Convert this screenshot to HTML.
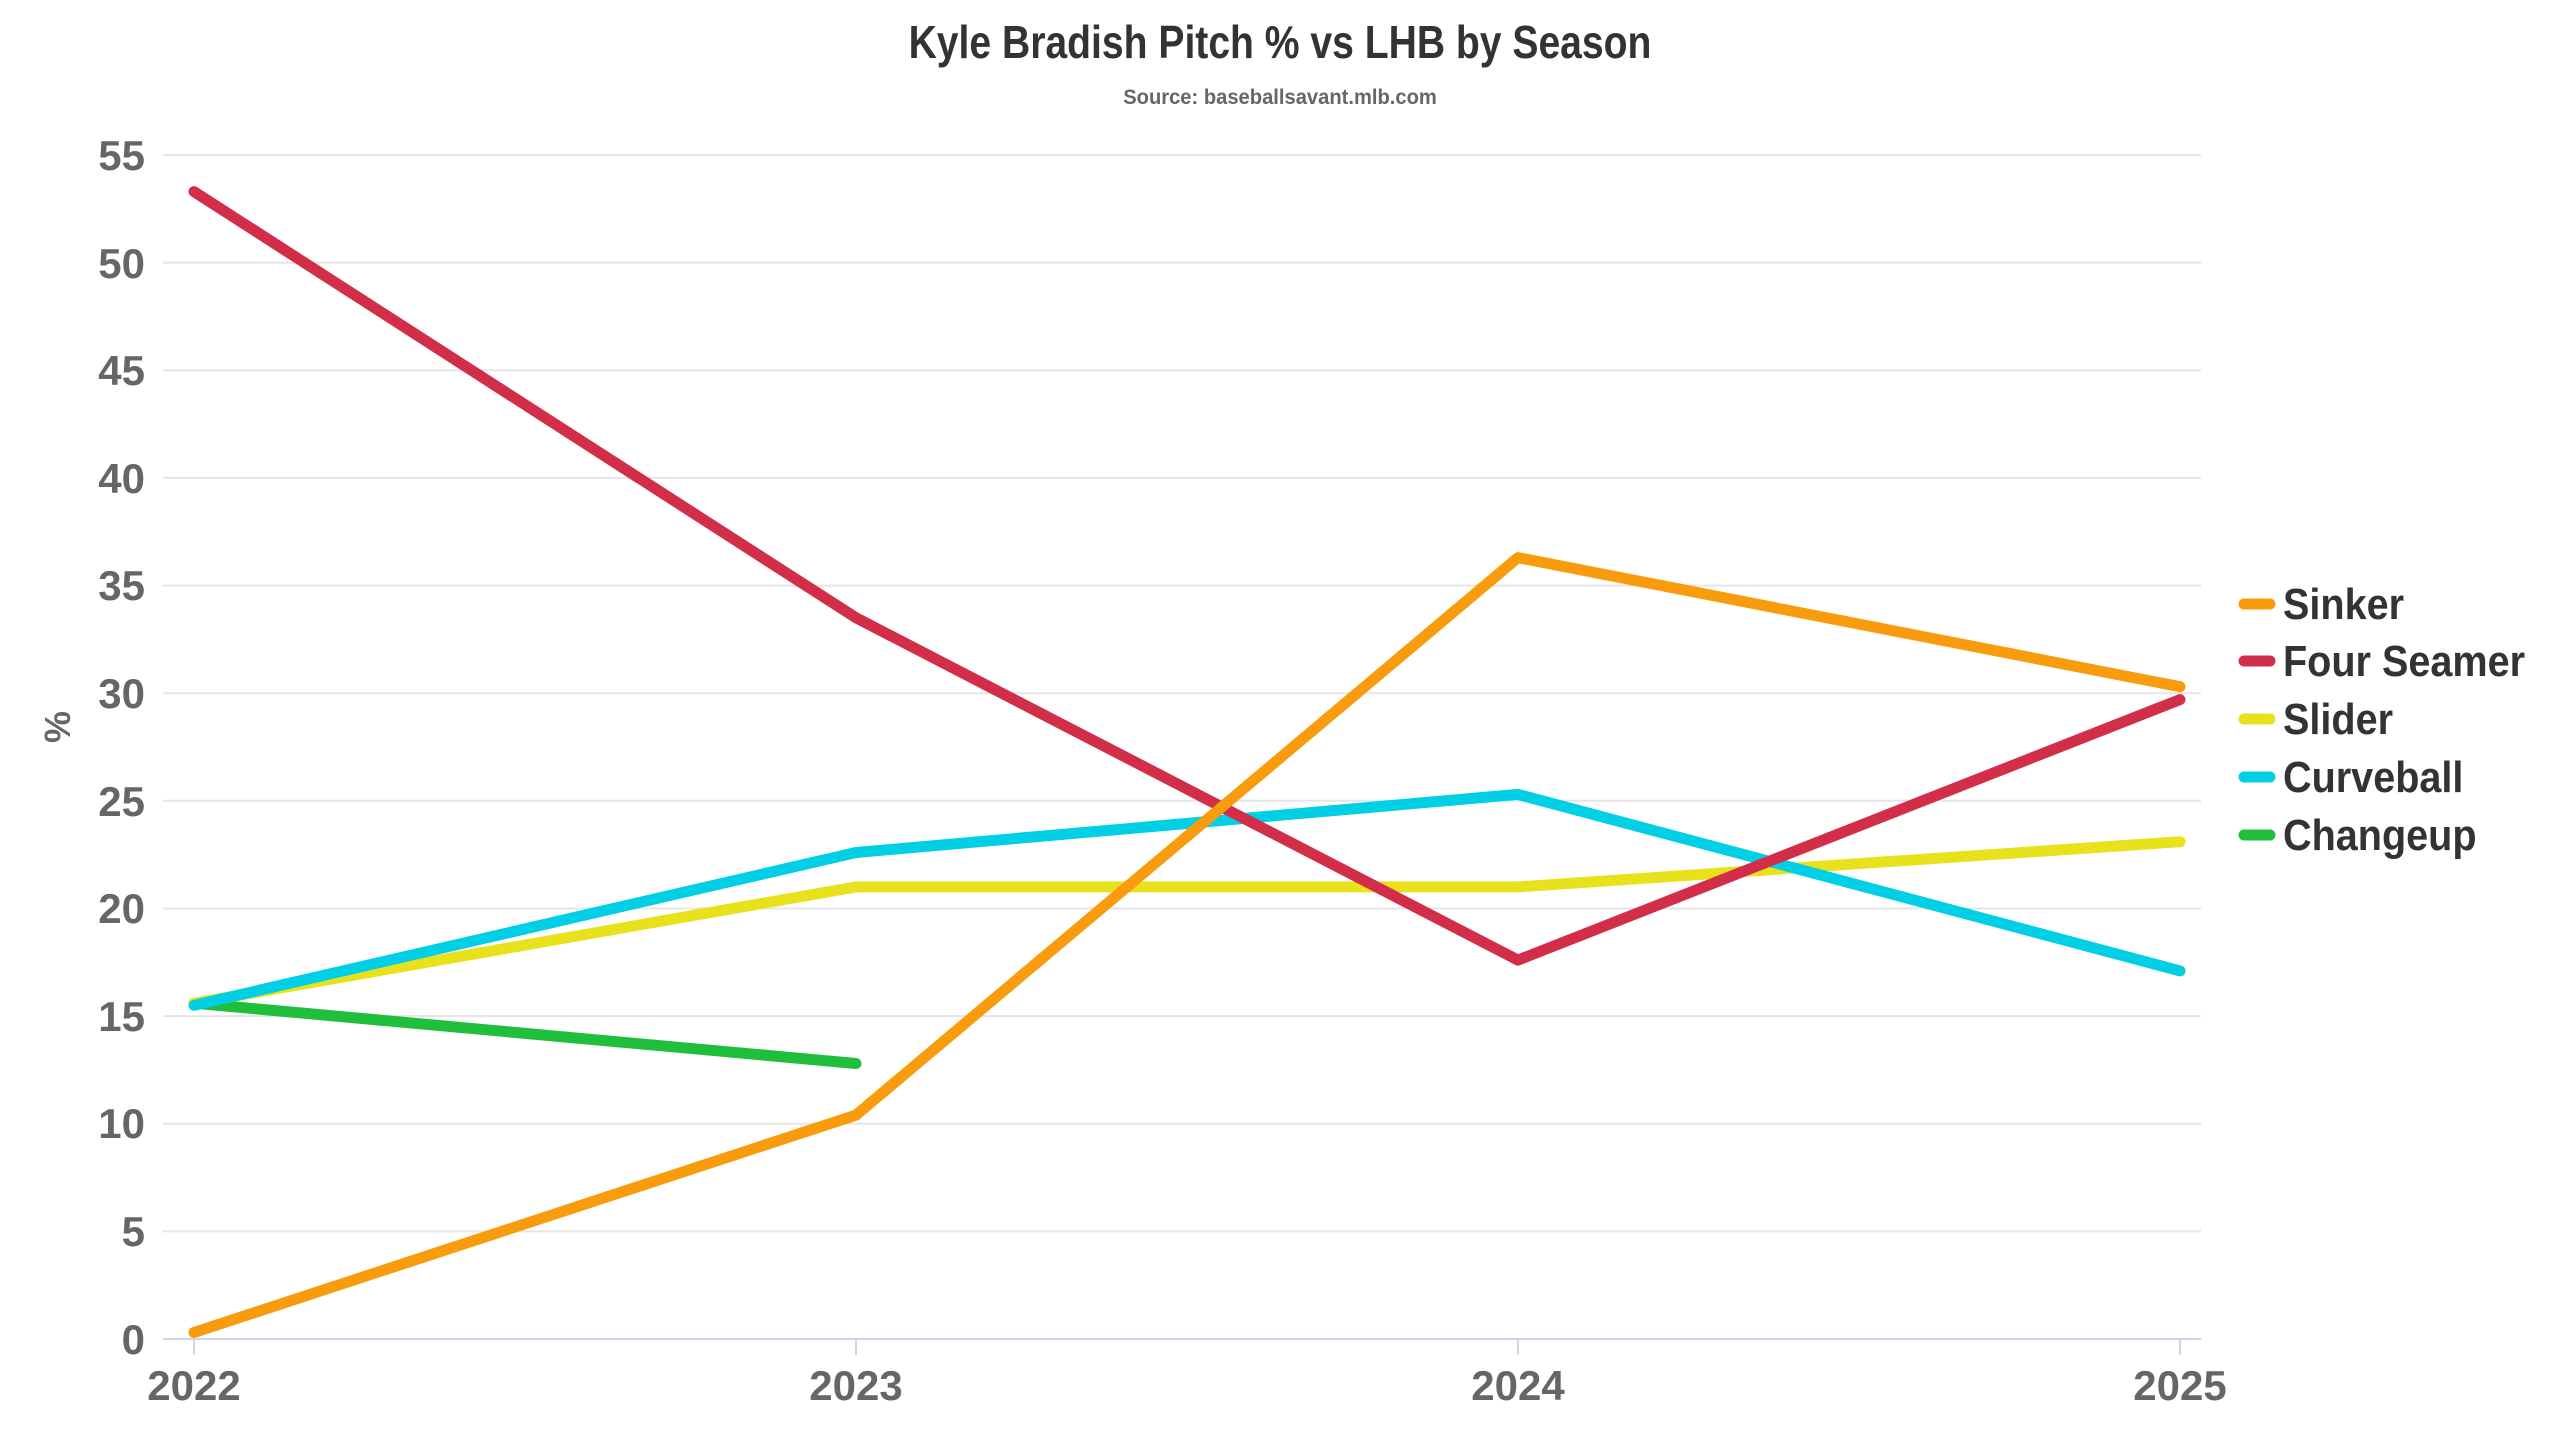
<!DOCTYPE html>
<html><head><meta charset="utf-8"><style>
html,body{margin:0;padding:0;background:#fff;}
svg{display:block;}
text{font-family:"Liberation Sans Narrow","Liberation Sans",sans-serif;font-weight:bold;}
</style></head><body>
<svg width="2560" height="1440" viewBox="0 0 2560 1440" xmlns="http://www.w3.org/2000/svg">
<text transform="translate(1280,58) scale(0.85,1)" x="0" y="0" text-anchor="middle" font-size="46" fill="#333">Kyle Bradish Pitch % vs LHB by Season</text>
<text transform="translate(1280,104) scale(0.96,1)" x="0" y="0" text-anchor="middle" font-size="21" fill="#666">Source: baseballsavant.mlb.com</text>
<g stroke="#e6e6e6" stroke-width="2">
<line x1="163" x2="2201" y1="1231.4" y2="1231.4"/>
<line x1="163" x2="2201" y1="1123.7" y2="1123.7"/>
<line x1="163" x2="2201" y1="1016.1" y2="1016.1"/>
<line x1="163" x2="2201" y1="908.5" y2="908.5"/>
<line x1="163" x2="2201" y1="800.8" y2="800.8"/>
<line x1="163" x2="2201" y1="693.2" y2="693.2"/>
<line x1="163" x2="2201" y1="585.6" y2="585.6"/>
<line x1="163" x2="2201" y1="477.9" y2="477.9"/>
<line x1="163" x2="2201" y1="370.3" y2="370.3"/>
<line x1="163" x2="2201" y1="262.7" y2="262.7"/>
<line x1="163" x2="2201" y1="155" y2="155"/>
</g>
<line x1="163" x2="2201" y1="1339" y2="1339" stroke="#ccd6eb" stroke-width="2"/>
<g stroke="#ccd6eb" stroke-width="2">
<line x1="194" x2="194" y1="1339" y2="1355"/><line x1="856" x2="856" y1="1339" y2="1355"/>
<line x1="1518" x2="1518" y1="1339" y2="1355"/><line x1="2180" x2="2180" y1="1339" y2="1355"/>
</g>
<g font-size="42" fill="#666" text-anchor="end">
<text x="145" y="1354">0</text><text x="145" y="1246">5</text><text x="145" y="1138">10</text>
<text x="145" y="1031">15</text><text x="145" y="923">20</text><text x="145" y="816">25</text>
<text x="145" y="708">30</text><text x="145" y="600">35</text><text x="145" y="493">40</text>
<text x="145" y="385">45</text><text x="145" y="278">50</text><text x="145" y="170">55</text>
</g>
<text transform="translate(70,727) rotate(-90)" text-anchor="middle" font-size="36" fill="#666">%</text>
<g font-size="42" fill="#666" text-anchor="middle">
<text x="194" y="1400">2022</text><text x="856" y="1400">2023</text>
<text x="1518" y="1400">2024</text><text x="2180" y="1400">2025</text>
</g>
<g fill="none" stroke-width="11" stroke-linejoin="round" stroke-linecap="round">
<polyline stroke="#1fbf3c" points="194,1003.2 856,1063.5"/>
<polyline stroke="#e8e21c" points="194,1003.2 856,886.9 1518,886.9 2180,841.7"/>
<polyline stroke="#00cfe6" points="194,1005.3 856,852.5 1518,794.4 2180,970.9"/>
<polyline stroke="#d22e4a" points="194,191.6 856,617.8 1518,960.1 2180,699.6"/>
<polyline stroke="#f89c0e" points="194,1332.5 856,1115.1 1518,557.6 2180,686.7"/>
</g>
<g stroke-width="11" stroke-linecap="round">
<line x1="2244" x2="2270" y1="604" y2="604" stroke="#f89c0e"/>
<line x1="2244" x2="2270" y1="661" y2="661" stroke="#d22e4a"/>
<line x1="2244" x2="2270" y1="719" y2="719" stroke="#e8e21c"/>
<line x1="2244" x2="2270" y1="777" y2="777" stroke="#00cfe6"/>
<line x1="2244" x2="2270" y1="835" y2="835" stroke="#1fbf3c"/>
</g>
<g font-size="44" fill="#333" transform="translate(2283,0) scale(0.9,1)">
<text x="0" y="619">Sinker</text><text x="0" y="676">Four Seamer</text>
<text x="0" y="734">Slider</text><text x="0" y="792">Curveball</text>
<text x="0" y="850">Changeup</text>
</g>
</svg>
</body></html>
